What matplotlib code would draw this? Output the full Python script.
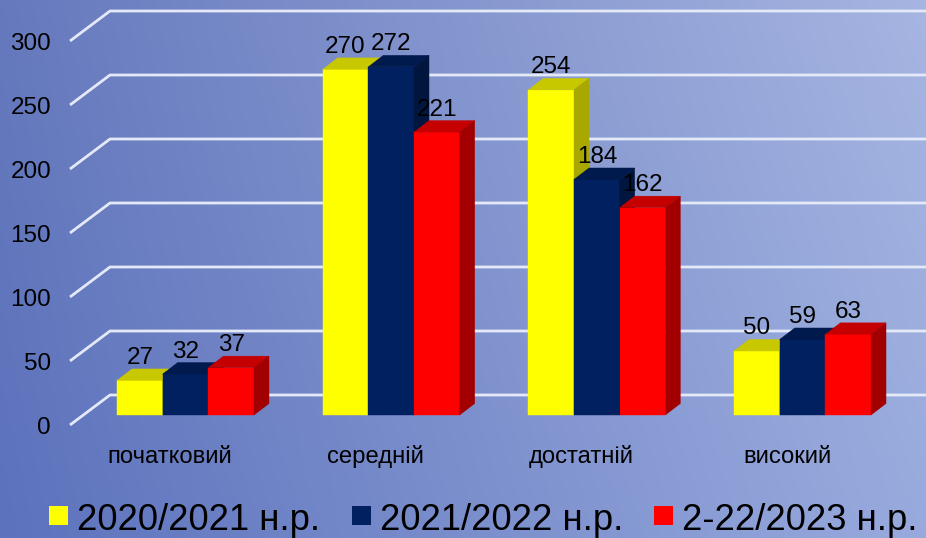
import numpy as np
import matplotlib
matplotlib.use("Agg")
import matplotlib.pyplot as plt
from matplotlib.patches import Polygon, Rectangle

plt.rcParams['font.family'] = ['Liberation Sans', 'DejaVu Sans']

# ---- data ----
categories = ["початковий", "середній", "достатній", "високий"]
series_labels = ["2020/2021 н.р.", "2021/2022 н.р.", "2-22/2023 н.р."]
values_2021 = [27, 270, 254, 50]
values_2022 = [32, 272, 184, 59]
values_2023 = [37, 221, 162, 63]
series_values = [values_2021, values_2022, values_2023]
yticks = [0, 50, 100, 150, 200, 250, 300]

# ---- styles ----
front_cols = ["#FFFF00", "#002060", "#FF0000"]
top_cols = ["#C8C800", "#001A4E", "#C40000"]
side_cols = ["#A8A800", "#00163F", "#A20000"]

W, H = 926, 538
fig = plt.figure(figsize=(W / 100, H / 100), dpi=100)

# background gradient
bg = fig.add_axes([0, 0, 1, 1])
tl = np.array([102, 121, 189]) / 255
tr = np.array([166, 181, 225]) / 255
bl = np.array([92, 114, 188]) / 255
br = np.array([152, 170, 221]) / 255
u = np.linspace(0, 1, 200)[None, :, None]
v = np.linspace(0, 1, 120)[:, None, None]
img = (1 - v) * ((1 - u) * tl + u * tr) + v * ((1 - u) * bl + u * br)
bg.imshow(img, aspect='auto', extent=[0, 1, 0, 1], interpolation='bilinear')
bg.axis('off')

# main axes mapped so geometry is in data units
XS = 205.67   # px per category
YS = 1.28     # px per value unit
X0 = 185.5    # px of first group centre
Y0 = 415.0    # px (from top) of value 0 at bar plane
ax = fig.add_axes([0, 0, 1, 1])
ax.patch.set_alpha(0)
ax.set_xlim(-X0 / XS, (W - X0) / XS)
ax.set_ylim(-(H - Y0) / YS, Y0 / YS)
ax.axis('off')

w = 45.67 / XS
ddx = 15.0 / XS
ddy = 11.5 / YS

# walls / gridlines
xf = (70 - X0) / XS
xb = (110 - X0) / XS
dyf = -10 / YS
dyb = 20 / YS
xmax = (W - X0) / XS
for t in yticks:
    ax.plot([xf, xb, xmax], [t + dyf, t + dyb, t + dyb], color="#E4E9F7",
            lw=2.0, solid_capstyle='butt', zorder=1)
    ax.text((51 - X0) / XS, t + dyf - 8.5 / YS, str(t), ha='right',
            va='baseline', fontsize=17.5, color='black')

# bars
xs = np.arange(len(categories))
for j, vals in enumerate(series_values):
    lefts = xs - 1.5 * w + j * w
    ax.bar(lefts, vals, width=w, align='edge', color=front_cols[j],
           edgecolor=front_cols[j], lw=0.3, zorder=3 + j)
    for l, h in zip(lefts, vals):
        top = Polygon([(l, h), (l + w, h), (l + w + ddx, h + ddy), (l + ddx, h + ddy)],
                      closed=True, fc=top_cols[j], ec=top_cols[j], lw=0.3, zorder=3 + j)
        side = Polygon([(l + w, 0), (l + w + ddx, ddy), (l + w + ddx, h + ddy), (l + w, h)],
                       closed=True, fc=side_cols[j], ec=side_cols[j], lw=0.3, zorder=3 + j)
        ax.add_patch(top)
        ax.add_patch(side)
        ax.text(l + w / 2, h + ddy + 5 / YS, str(h), ha='center', va='baseline',
                fontsize=17.5, color='black', zorder=10)

# category labels
for i, c in enumerate(categories):
    ax.text(i - 15.5 / XS, -(463 - Y0) / YS, c, ha='center', va='baseline',
            fontsize=17.2, color='black')

# legend
sq_x = [49, 352, 654]
txt_x = [77, 380, 682]
for j, lab in enumerate(series_labels):
    fig.patches.append(Rectangle((sq_x[j] / W, 1 - 525 / H), 19 / W, 19 / H,
                                 transform=fig.transFigure, fc=front_cols[j],
                                 ec='none', zorder=5))
    fig.text(txt_x[j] / W, 1 - 529.5 / H, lab, ha='left', va='baseline',
             fontsize=26.2, color='black')

fig.savefig("out.png", dpi=100)
